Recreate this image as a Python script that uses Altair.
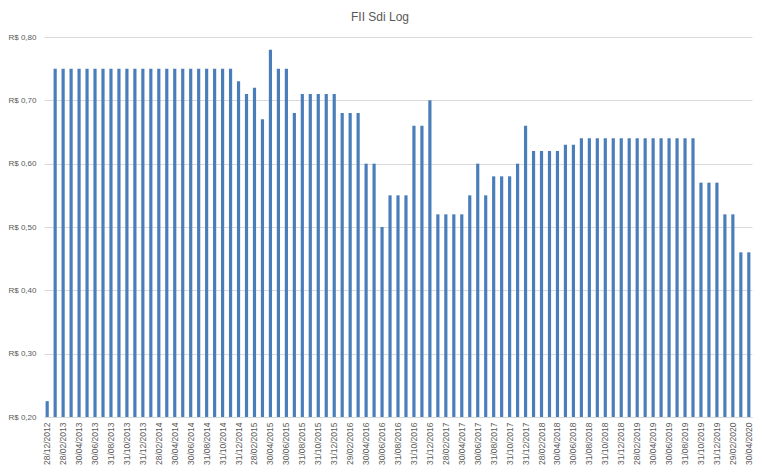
import calendar
import altair as alt
import pandas as pd

# Monthly values (R$), Dec 2012 .. Apr 2020
valores = [
    0.225,
    0.75, 0.75, 0.75, 0.75, 0.75, 0.75, 0.75, 0.75, 0.75, 0.75, 0.75, 0.75,
    0.75, 0.75, 0.75, 0.75, 0.75, 0.75, 0.75, 0.75, 0.75, 0.75, 0.75,
    0.73, 0.71, 0.72, 0.67, 0.78, 0.75, 0.75, 0.68,
    0.71, 0.71, 0.71, 0.71, 0.71,
    0.68, 0.68, 0.68, 0.60, 0.60, 0.50, 0.55, 0.55, 0.55, 0.66, 0.66, 0.70,
    0.52, 0.52, 0.52, 0.52, 0.55, 0.60, 0.55, 0.58, 0.58, 0.58, 0.60, 0.66,
    0.62, 0.62, 0.62, 0.62, 0.63, 0.63,
    0.64, 0.64, 0.64, 0.64, 0.64, 0.64, 0.64, 0.64, 0.64, 0.64, 0.64, 0.64,
    0.64, 0.64, 0.64,
    0.57, 0.57, 0.57, 0.52, 0.52, 0.46, 0.46,
]

primeira_data = "28/12/2012"
ano_inicio, mes_inicio = 2013, 1

datas = [primeira_data]
ano, mes = ano_inicio, mes_inicio
while len(datas) < len(valores):
    dia = calendar.monthrange(ano, mes)[1]
    datas.append(f"{dia:02d}/{mes:02d}/{ano}")
    mes += 1
    if mes > 12:
        mes = 1
        ano += 1

rotulos_x = datas[::2]
ticks_y = [0.2, 0.3, 0.4, 0.5, 0.6, 0.7, 0.8]

df = pd.DataFrame({"data": datas, "valor": valores})

FONT = "Liberation Sans"
GREY = "#595959"
GRID = "#d9d9d9"

chart = (
    alt.Chart(df)
    .mark_bar(color="#4a7ebb")
    .encode(
        x=alt.X(
            "data:N",
            sort=None,
            scale=alt.Scale(paddingInner=0.6, paddingOuter=0.2),
            axis=alt.Axis(
                values=rotulos_x,
                labelAngle=-90,
                title=None,
                ticks=False,
                grid=False,
                domainColor=GRID,
                labelFont=FONT,
                labelFontSize=8.5,
                labelColor=GREY,
                labelPadding=5,
                labelOverlap=False,
            ),
        ),
        y=alt.Y(
            "valor:Q",
            scale=alt.Scale(domain=[0.2, 0.8], zero=False, nice=False),
            axis=alt.Axis(
                values=ticks_y,
                labelExpr="'R$ ' + replace(format(datum.value, '.2f'), '.', ',')",
                title=None,
                ticks=False,
                domain=False,
                grid=True,
                gridColor=GRID,
                labelFont=FONT,
                labelFontSize=8,
                labelColor=GREY,
                labelPadding=8,
            ),
        ),
        y2=alt.datum(0.2),
    )
    .properties(
        width=708,
        height=380,
        autosize=alt.AutoSizeParams(type="none"),
        padding={"left": 36, "top": 29, "right": 2, "bottom": 50},
        title=alt.TitleParams(
            "FII Sdi Log",
            font=FONT,
            fontSize=12,
            fontWeight="normal",
            color=GREY,
            anchor="middle",
            offset=9,
            dx=-18,
        ),
    )
    .configure_view(stroke=None)
)

chart.save("out.html", embed_options={"renderer": "svg", "actions": False})
